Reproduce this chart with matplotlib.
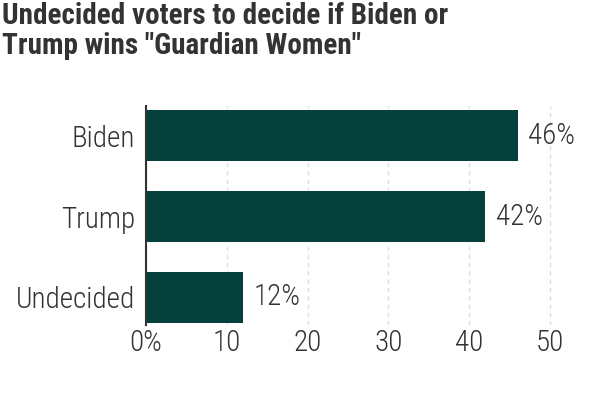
import matplotlib.pyplot as plt

categories = ['Biden', 'Trump', 'Undecided']
values = [46, 42, 12]
ticks = [0, 10, 20, 30, 40, 50]
tick_labels = ['0%', '10', '20', '30', '40', '50']

plt.rcParams['font.family'] = ['Roboto Condensed', 'DejaVu Sans']
plt.rcParams['font.stretch'] = 'condensed'
text_col = '#333333'
bar_col = '#06403d'

fig = plt.figure(figsize=[6, 3.99], dpi=100)
ax = fig.add_axes([0.2433, 0.1855, 0.70, 0.5485])
ypos = list(range(len(categories)))
ax.barh(ypos, values, 0.63, color=bar_col, zorder=2)
for y, v in zip(ypos, values):
    ax.text(v + 1.3, y, f'{v}%', va='center', ha='left', fontsize=21,
            fontweight='light', color=text_col, zorder=4)

ax.set_xlim(0, 52)
ax.set_ylim(2.34, -0.364)
ax.set_yticks(ypos)
ax.set_yticklabels(categories, fontweight='light')
ax.set_xticks(ticks)
ax.set_xticklabels(tick_labels, fontweight='light')
ax.tick_params(axis='both', length=0, labelsize=21, colors=text_col, pad=8)
ax.tick_params(axis='x', pad=3)
ax.grid(axis='x', color='#dddddd', linestyle=(0, (3, 3)), linewidth=1, zorder=0)
for s in ['top', 'right', 'bottom']:
    ax.spines[s].set_visible(False)
ax.spines['left'].set_color(text_col)
ax.spines['left'].set_linewidth(1.5)
ax.spines['left'].set_zorder(3)

fig.text(0.003, 0.995, 'Undecided voters to decide if Biden or\nTrump wins "Guardian Women"',
         ha='left', va='top', fontsize=21, fontweight='bold', color=text_col, linespacing=1.1)

plt.savefig('out.png')
plt.close()
